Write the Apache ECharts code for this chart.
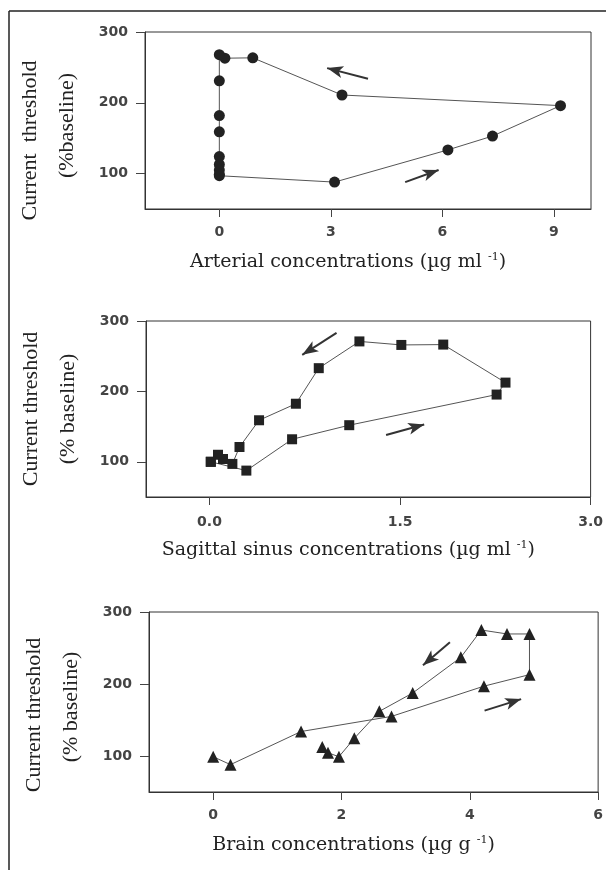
<!DOCTYPE html>
<html>
<head>
<meta charset="utf-8">
<script src="https://cdn.jsdelivr.net/npm/echarts@6/dist/echarts.min.js"></script>
<style>
  html, body { margin: 0; padding: 0; background: #fff; }
  #main { width: 606px; height: 870px; }
</style>
</head>
<body>
<div id="main"></div>
<script>
// arterial (circles), [conc, threshold] in time order
var arterial = [
  [0.0, 97], [3.1, 88], [6.15, 133.5], [7.35, 153], [9.18, 196], [3.3, 211],
  [0.9, 263.5], [0.15, 263], [0.0, 268], [0.0, 231], [0.0, 182], [0.0, 159],
  [0.0, 124], [0.0, 113], [0.0, 105], [0.0, 99]
];
// sagittal sinus (squares)
var sinus = [
  [0.01, 100], [0.29, 87.5], [0.65, 132], [1.10, 152], [2.26, 195.5], [2.33, 212.5],
  [1.84, 266.5], [1.51, 266], [1.18, 271], [0.86, 233], [0.68, 182.5], [0.39, 159],
  [0.236, 121], [0.18, 97], [0.106, 104], [0.067, 110], [0.01, 100]
];
// brain (triangles)
var brain = [
  [0.0, 99], [0.27, 88], [1.37, 134], [2.78, 155], [4.22, 197], [4.93, 213],
  [4.93, 269.5], [4.58, 269.5], [4.18, 275], [3.86, 237], [3.11, 187.5],
  [2.59, 162], [2.2, 124.5], [1.96, 99], [1.79, 104.5], [1.70, 112.5]
];

// direction arrows [from, to] in data units
var arrows1 = [[[4.0, 234], [2.9, 249]], [[5.0, 88], [5.9, 105]]];
var arrows2 = [[[1.0, 283], [0.73, 252]], [[1.39, 138], [1.69, 153]]];
var arrows3 = [[[3.69, 258], [3.27, 226]], [[4.23, 163], [4.8, 179]]];

var yTicks = [100, 200, 300];
var xTicks1 = [0, 3, 6, 9];
var xTicks2 = [0, 1.5, 3];
var xTicks3 = [0, 2, 4, 6];

var serif = 'Liberation Serif';
var wideSerif = 'DejaVu Serif';
var sans = 'DejaVu Sans';

function xAxisFor(idx, min, max, ticks, name, fmt, margin) {
  return {
    type: 'value', gridIndex: idx, min: min, max: max,
    name: name, nameLocation: 'middle', nameGap: 43,
    nameTextStyle: {
      fontFamily: wideSerif, fontSize: 19, color: '#222', padding: [0, 40, 0, 0],
      rich: { sup: { fontFamily: wideSerif, fontSize: 11, color: '#222', padding: [0, 0, 10, 0] } }
    },
    axisLine: { show: true, onZero: false, lineStyle: { color: '#333', width: 1 } },
    axisTick: { show: true, customValues: ticks, length: 8, inside: false, lineStyle: { color: '#444' } },
    axisLabel: {
      customValues: ticks, margin: margin, fontFamily: sans, fontWeight: 'bold',
      fontSize: 14, color: '#444', formatter: fmt
    },
    splitLine: { show: false }
  };
}

function yAxisFor(idx, name, rich) {
  return {
    type: 'value', gridIndex: idx, min: 50, max: 300,
    name: name, nameLocation: 'middle', nameGap: 59,
    nameTextStyle: { fontFamily: serif, fontSize: 22, color: '#222', lineHeight: 37, rich: rich },
    axisLine: { show: true, onZero: false, lineStyle: { color: '#333', width: 1 } },
    axisTick: { show: true, customValues: yTicks, length: 9, lineStyle: { color: '#444' } },
    axisLabel: {
      customValues: yTicks, margin: 17, fontFamily: sans, fontWeight: 'bold',
      fontSize: 14, color: '#444'
    },
    splitLine: { show: false }
  };
}

function arrowMark(list) {
  return {
    silent: true,
    symbol: ['none', 'arrow'],
    symbolSize: [9, 16],
    label: { show: false },
    lineStyle: { color: '#333', width: 2, type: 'solid' },
    data: list.map(function (a) { return [{ coord: a[0] }, { coord: a[1] }]; })
  };
}

function seriesFor(idx, data, symbol, size, arrows) {
  return {
    type: 'line', xAxisIndex: idx, yAxisIndex: idx, data: data,
    symbol: symbol, symbolSize: size, showAllSymbol: true,
    lineStyle: { color: '#555', width: 1 },
    itemStyle: { color: '#222', borderWidth: 0 },
    markLine: arrowMark(arrows),
    animation: false
  };
}

function nameRich(padA, padB) {
  return {
    a: { fontFamily: serif, fontSize: 22, color: '#222', padding: [0, padA, 0, 0] },
    b: { fontFamily: serif, fontSize: 22, color: '#222', padding: [0, padB, 0, 0] }
  };
}

var gridStyle = { show: true, borderColor: '#333', borderWidth: 1, backgroundColor: 'transparent' };

var chart = echarts.init(document.getElementById('main'));
var option = {
  backgroundColor: '#fff',
  animation: false,
  grid: [
    Object.assign({ left: 145, top: 32, width: 446, height: 177 }, gridStyle),
    Object.assign({ left: 146, top: 321, width: 449, height: 176 }, gridStyle),
    Object.assign({ left: 149, top: 612, width: 450, height: 180 }, gridStyle)
  ],
  xAxis: [
    xAxisFor(0, -2, 10, xTicks1, 'Arterial concentrations (µg ml {sup|-1})', null, 16),
    xAxisFor(1, -0.5, 3, xTicks2, 'Sagittal sinus concentrations (µg ml {sup|-1})',
      function (v) { return v.toFixed(1); }, 18),
    xAxisFor(2, -1, 6, xTicks3, 'Brain concentrations (µg g {sup|-1})', null, 16)
  ],
  yAxis: [
    yAxisFor(0, '{a|Current  threshold}\n{b|(%baseline)}', nameRich(40, 10)),
    yAxisFor(1, '{a|Current threshold}\n{b|(% baseline)}', nameRich(0, 0)),
    yAxisFor(2, '{a|Current threshold}\n{b|(% baseline)}', nameRich(26, 10))
  ],
  series: [
    seriesFor(0, arterial, 'circle', 11, arrows1),
    seriesFor(1, sinus, 'rect', 10, arrows2),
    seriesFor(2, brain, 'triangle', 12, arrows3)
  ],
  graphic: [
    { type: 'line', shape: { x1: 9, y1: 11, x2: 606, y2: 11 }, style: { stroke: '#222', lineWidth: 1.5 } },
    { type: 'line', shape: { x1: 9, y1: 11, x2: 9, y2: 870 }, style: { stroke: '#222', lineWidth: 1.5 } }
  ]
};
chart.setOption(option);
window.addEventListener('resize', function () { chart.resize(); });
</script>
</body>
</html>
